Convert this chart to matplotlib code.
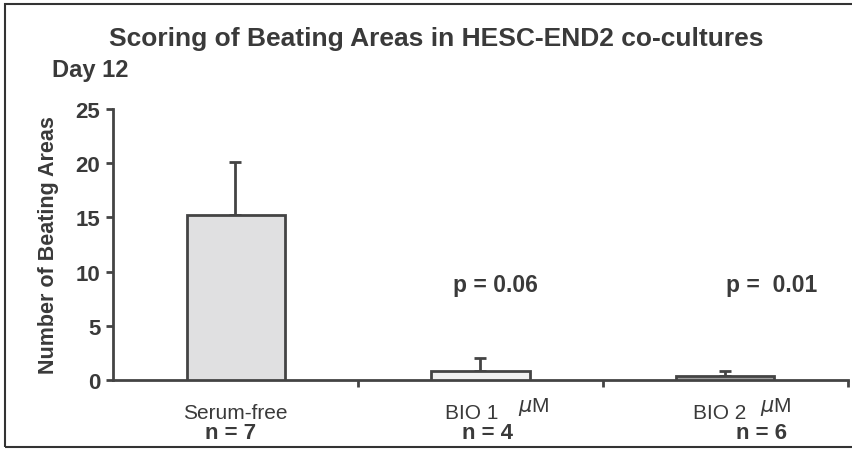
import numpy as np
import matplotlib.pyplot as plt
from matplotlib.patches import Rectangle

FONT = ['Liberation Sans', 'DejaVu Sans']
plt.rcParams['font.family'] = FONT

# data
groups = ['Serum-free', 'BIO 1', 'BIO 2']
n_labels = ['n = 7', 'n = 4', 'n = 6']
means = [15.2, 0.8, 0.35]
errors = [4.9, 1.2, 0.45]
p_labels = [None, 'p = 0.06', 'p =  0.01']
fills = ['#e0e0e1', '#f0f0f0', '#a0a0a0']

EDGE = '#444444'
TXT = '#3a3a3a'

fig = plt.figure(figsize=(8.52, 4.52), dpi=100)
ax = fig.add_axes([113/852, 1-381/452, 735/852, 271/452])

x = np.arange(len(groups)) + 0.5
ax.bar(x, means, 0.4, color=fills, edgecolor=EDGE, linewidth=2, zorder=3)
ax.errorbar(x, means, yerr=[np.zeros(3), errors], fmt='none', ecolor=EDGE,
            elinewidth=2, capsize=4.5, capthick=2, zorder=2)

ax.set_xlim(0, 3)
ax.set_ylim(0, 25)
ax.set_yticks([0, 5, 10, 15, 20, 25])
ax.set_xticks([1, 2, 3])
ax.set_xticklabels([])
for s in ['top', 'right']:
    ax.spines[s].set_visible(False)
for s in ['left', 'bottom']:
    ax.spines[s].set_color(EDGE)
    ax.spines[s].set_linewidth(2)
ax.tick_params(axis='y', length=5, width=2, color=EDGE, labelsize=16,
               labelcolor=TXT, pad=4)
ax.tick_params(axis='x', length=5, width=2, color=EDGE)
for t in ax.get_yticklabels():
    t.set_fontweight('bold')
ax.set_ylabel('Number of Beating Areas', fontsize=15.5, fontweight='bold',
              color=TXT)
ax.yaxis.set_label_coords(-0.074, 0.5)

# p-values
p_off = [0, 0.06, 0.19]
for xi, p, po in zip(x, p_labels, p_off):
    if p:
        ax.text(xi + po, 8.85, p, ha='center', va='center', fontsize=16.5,
                fontweight='bold', color=TXT)

# category labels below the axis
tr = ax.get_xaxis_transform()
name_off = [0.0, -0.035, -0.022]
n_off = [-0.02, 0.03, 0.145]
mu_off = [0, 0.25, 0.225]
for xi, g, n, no, nn, mo in zip(x, groups, n_labels, name_off, n_off, mu_off):
    ax.text(xi + no, -0.12, g, transform=tr, ha='center', va='center',
            fontsize=15, color=TXT)
    ax.text(xi + nn, -0.195, n, transform=tr, ha='center', va='center',
            fontsize=16, fontweight='bold', color=TXT)
    if mo:
        ax.text(xi + no + mo, -0.095, r'$\mu$M', transform=tr, ha='center',
                va='center', fontsize=15, color=TXT)

fig.text(436/852, 1-39/452, 'Scoring of Beating Areas in HESC-END2 co-cultures',
         ha='center', va='center', fontsize=19, fontweight='bold', color=TXT)
fig.text(52/852, 1-70/452, 'Day 12', ha='left', va='center', fontsize=17,
         fontweight='bold', color=TXT)

# outer frame
fig.patches.append(Rectangle((5/852, 4/452), 1.0, 443/452, transform=fig.transFigure,
                             fill=False, edgecolor='#333333', linewidth=1.5))

fig.savefig('out.png', dpi=100)
